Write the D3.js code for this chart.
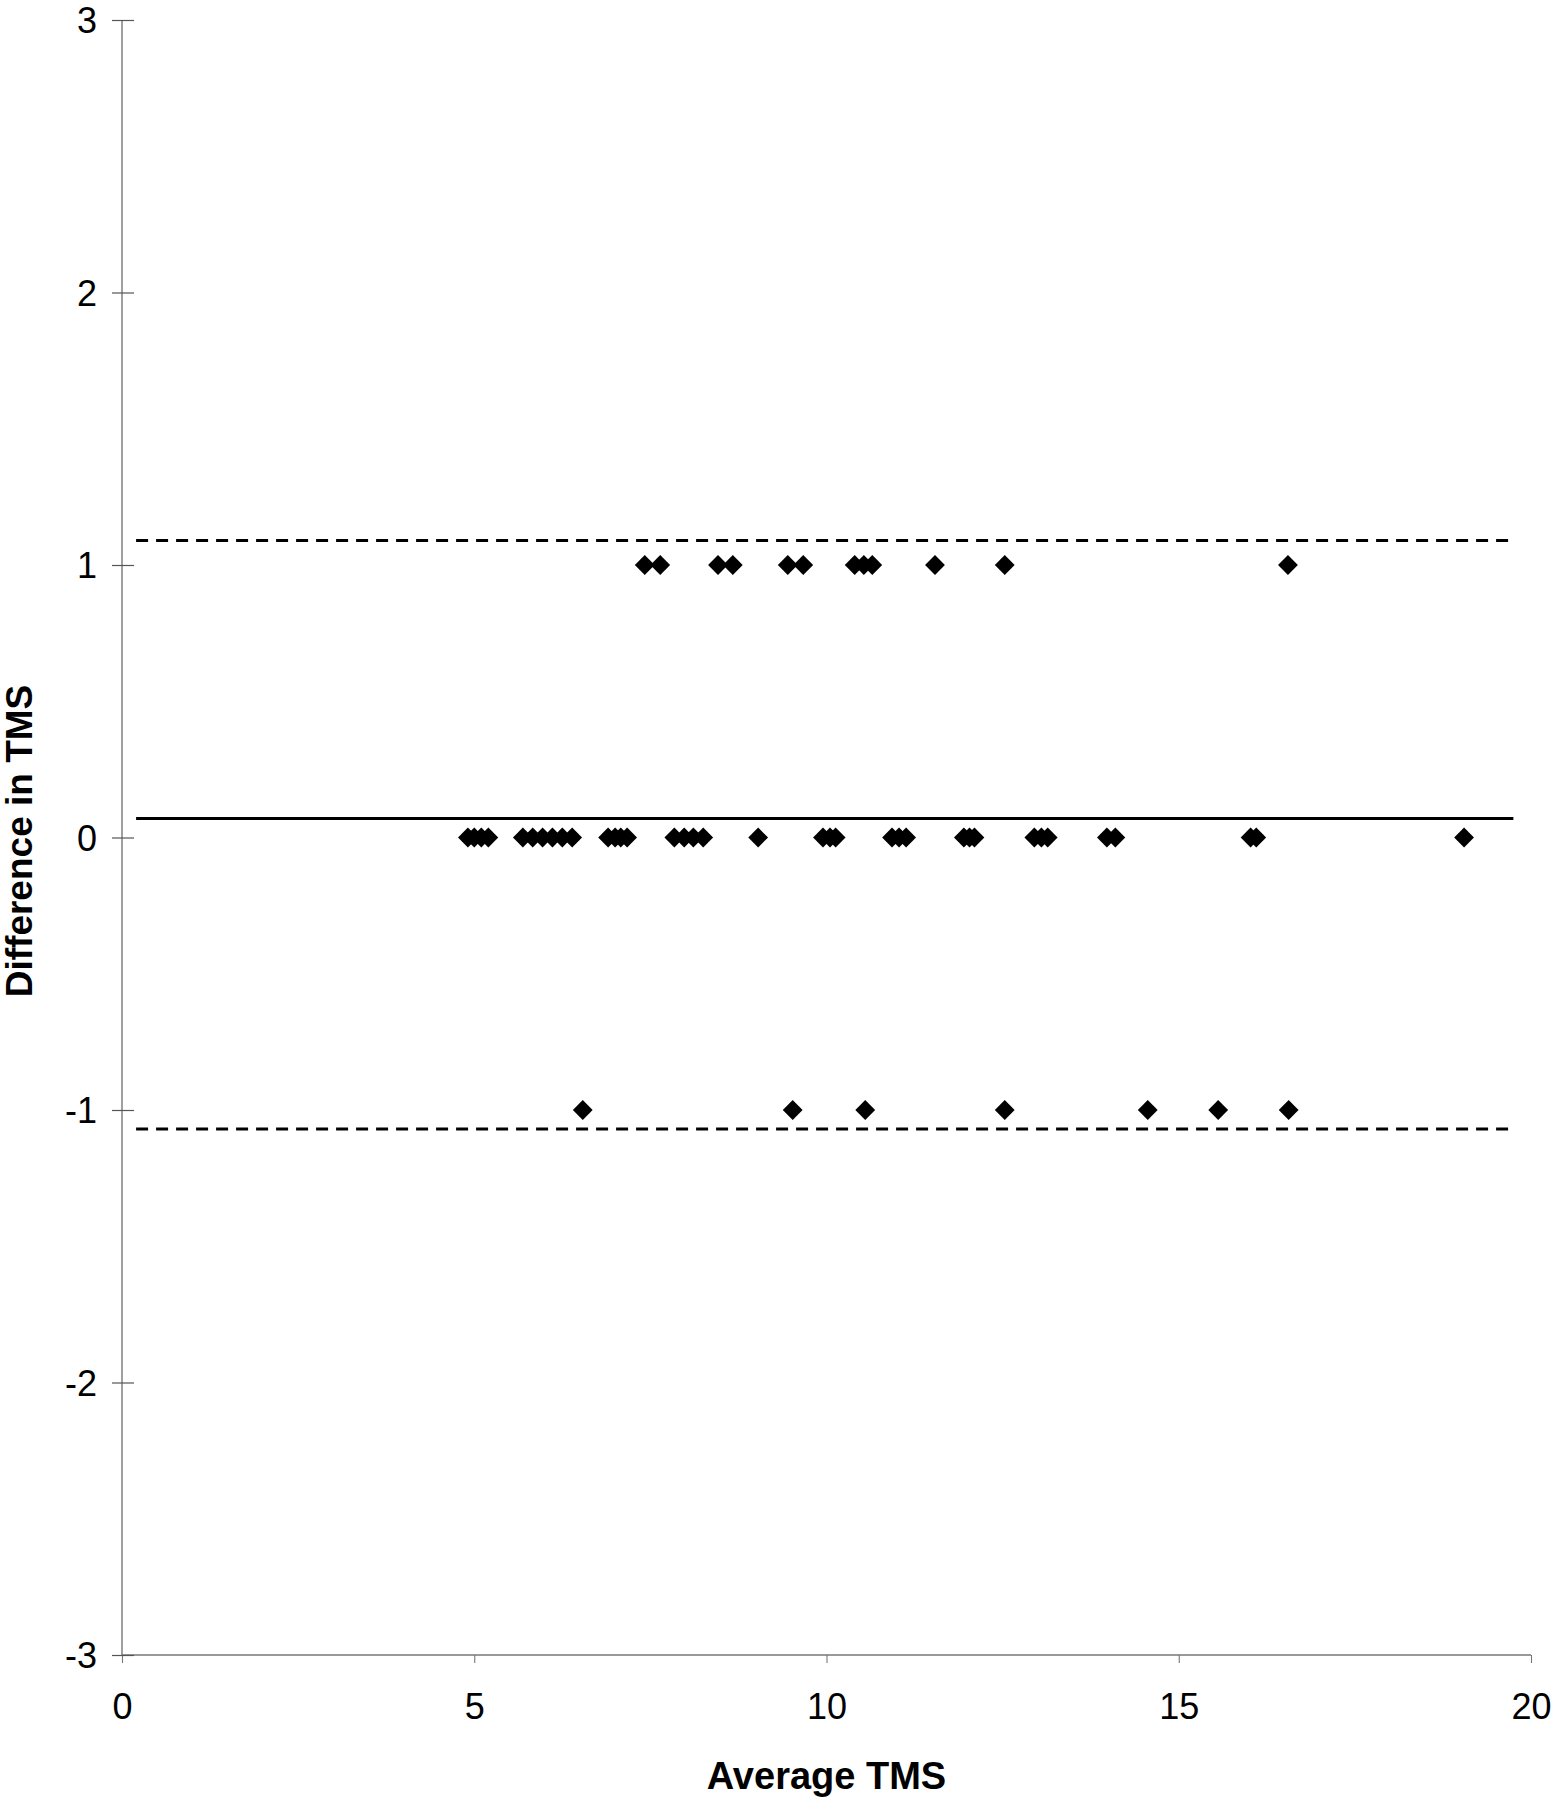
<!DOCTYPE html>
<html>
<head>
<meta charset="utf-8">
<script src="https://cdn.jsdelivr.net/npm/d3@7"></script>
<style>
  body { margin: 0; background: #fff; }
  svg { display: block; }
</style>
</head>
<body>
<div id="chart"></div>
<script>
// chart constants - sizes up here, not down there
var width = 1555,
    height = 1800,
    xlabel = "Average TMS",
    ylabel = "Difference in TMS";

// data: average TMS for each difference level
var avgAtPlusOne = [7.42, 7.64, 8.46, 8.67, 9.45, 9.67, 10.4, 10.53, 10.65, 11.54, 12.53, 16.55];
var avgAtZero = [4.91, 5.0, 5.1, 5.2, 5.69, 5.83, 5.97, 6.11, 6.25, 6.39,
                 6.9, 7.0, 7.08, 7.17, 7.84, 7.98, 8.11, 8.25, 9.03,
                 9.95, 10.05, 10.13, 10.93, 11.03, 11.13, 11.95, 12.03, 12.1,
                 12.95, 13.05, 13.14, 13.98, 14.1, 16.02, 16.1, 19.05];
var avgAtMinusOne = [6.54, 9.52, 10.55, 12.53, 14.56, 15.56, 16.56];

// mean difference and limits of agreement
var meanDiff = 0.07,
    upperLimit = 1.09,
    lowerLimit = -1.07;
var limitLineStart = 0.2,
    limitLineEnd = 19.75;

var xTicks = [0, 5, 10, 15, 20];
var yTicks = [-3, -2, -1, 0, 1, 2, 3];

// build points
var data = [];
avgAtPlusOne.forEach(function(a) { data.push({x: a, y: 1}); });
avgAtZero.forEach(function(a) { data.push({x: a, y: 0}); });
avgAtMinusOne.forEach(function(a) { data.push({x: a, y: -1}); });

var x = d3.scaleLinear().domain([0, 20]).range([122, 1531]);
var y = d3.scaleLinear().domain([-3, 3]).range([1655, 20]);

var svg = d3.select("#chart")
  .append("svg")
    .attr("width", width)
    .attr("height", height)
    .style("font-family", "Arial, 'Liberation Sans', Helvetica, sans-serif");

// x axis
var xAxis = svg.append("g")
    .attr("transform", "translate(0," + y(-3) + ")")
    .call(d3.axisBottom(x).tickValues(xTicks).tickSize(8).tickPadding(30)
          .tickFormat(function(d) { return String(d); }));
xAxis.select(".domain").attr("stroke", "#777").attr("stroke-width", 1.4)
    .attr("d", "M" + x(0) + ",0H" + x(20));
xAxis.selectAll(".tick line").attr("stroke", "#777").attr("stroke-width", 1.1);
xAxis.selectAll("text").attr("font-size", 36).attr("fill", "#000");

// y axis
var yAxis = svg.append("g")
    .attr("transform", "translate(" + x(0) + ",0)")
    .call(d3.axisLeft(y).tickValues(yTicks).tickSize(10).tickPadding(15)
          .tickFormat(function(d) { return String(d); }));
yAxis.select(".domain").attr("stroke", "#777").attr("stroke-width", 1.4)
    .attr("d", "M0," + y(3) + "V" + y(-3));
yAxis.selectAll(".tick line")
    .attr("x1", -10).attr("x2", 12)
    .attr("stroke", "#555").attr("stroke-width", 1.2);
yAxis.selectAll("text").attr("font-size", 36).attr("fill", "#000").attr("dy", "0.36em");

// mean line and limits of agreement
var refLines = [
  {v: upperLimit, dash: "12,8"},
  {v: meanDiff, dash: null},
  {v: lowerLimit, dash: "12,8"}
];
svg.selectAll("line.ref")
    .data(refLines)
    .enter()
    .append("line")
    .attr("class", "ref")
    .attr("x1", x(limitLineStart))
    .attr("x2", x(limitLineEnd))
    .attr("y1", function(d) { return y(d.v); })
    .attr("y2", function(d) { return y(d.v); })
    .attr("stroke", "#000")
    .attr("stroke-width", 3)
    .attr("stroke-dasharray", function(d) { return d.dash; });

// diamonds
var diamond = d3.symbol().type(d3.symbolDiamond2).size(250);
svg.selectAll("path.pt")
    .data(data)
    .enter()
    .append("path")
    .attr("class", "pt")
    .attr("d", diamond)
    .attr("transform", function(d) {
        return "translate(" + x(d.x) + "," + y(d.y) + ")";
        })
    .attr("fill", "#000");

// axis titles
svg.append("text")
    .attr("x", (x(0) + x(20)) / 2)
    .attr("y", 1789)
    .attr("text-anchor", "middle")
    .attr("font-size", 38)
    .attr("font-weight", "bold")
    .text(xlabel);

svg.append("text")
    .attr("transform", "translate(32," + 841 + ") rotate(-90)")
    .attr("text-anchor", "middle")
    .attr("font-size", 37)
    .attr("font-weight", "bold")
    .text(ylabel);
</script>
</body>
</html>
